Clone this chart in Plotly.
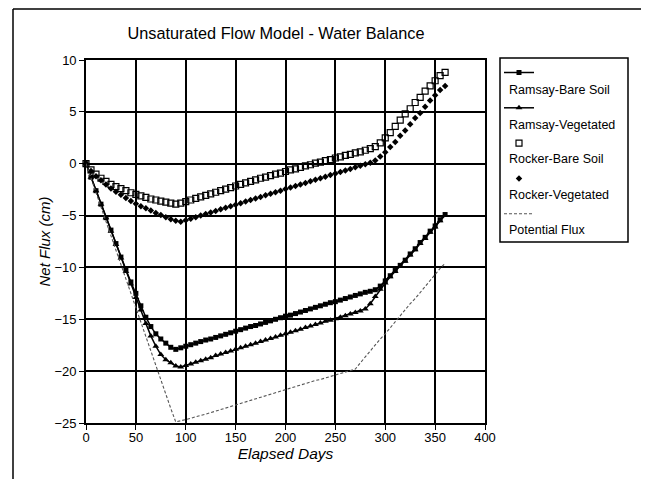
import plotly.graph_objects as go

days = [0, 5, 10, 15, 20, 25, 30, 35, 40, 45,
        50, 55, 60, 65, 70, 75, 80, 85, 90, 95,
        100, 105, 110, 115, 120, 125, 130, 135, 140, 145,
        150, 155, 160, 165, 170, 175, 180, 185, 190, 195,
        200, 205, 210, 215, 220, 225, 230, 235, 240, 245,
        250, 255, 260, 265, 270, 275, 280, 285, 290, 295,
        300, 305, 310, 315, 320, 325, 330, 335, 340, 345,
        350, 355, 360]

ramsay_bare = [0, -1.3, -2.6, -3.9, -5.2, -6.4, -7.7, -9.0, -10.2, -11.4,
               -12.5, -13.7, -14.8, -15.7, -16.4, -16.9, -17.3, -17.7, -17.9, -17.75,
               -17.6, -17.45, -17.3, -17.15, -17.0, -16.9, -16.75, -16.6, -16.45, -16.3,
               -16.15, -16.0, -15.85, -15.7, -15.6, -15.45, -15.3, -15.15, -15.0, -14.85,
               -14.7, -14.6, -14.45, -14.3, -14.15, -14.0, -13.85, -13.7, -13.55, -13.4,
               -13.3, -13.15, -13.0, -12.85, -12.7, -12.55, -12.4, -12.3, -12.15, -11.8,
               -11.3, -10.8, -10.3, -9.8, -9.3, -8.7, -8.2, -7.6, -7.1, -6.5,
               -6.0, -5.4, -4.9]

ramsay_veg = [0, -1.3, -2.6, -3.9, -5.2, -6.5, -7.8, -9.1, -10.4, -11.6,
              -12.9, -14.1, -15.4, -16.6, -17.6, -18.4, -18.9, -19.2, -19.5, -19.6,
              -19.45, -19.3, -19.15, -19.0, -18.85, -18.7, -18.5, -18.35, -18.2, -18.05,
              -17.9, -17.75, -17.6, -17.45, -17.3, -17.15, -17.0, -16.85, -16.7, -16.55,
              -16.4, -16.25, -16.1, -15.95, -15.8, -15.65, -15.5, -15.35, -15.2, -15.1,
              -14.95, -14.8, -14.65, -14.5, -14.35, -14.2, -14.0, -13.5, -12.8, -12.1,
              -11.5, -10.9, -10.4, -9.9, -9.4, -8.8, -8.3, -7.7, -7.2, -6.6,
              -6.1, -5.5, -5.0]

rocker_bare = [0, -0.6, -1.0, -1.4, -1.7, -2.0, -2.2, -2.4, -2.6, -2.8,
               -2.95, -3.1, -3.25, -3.4, -3.5, -3.6, -3.7, -3.8, -3.9, -3.8,
               -3.65, -3.5, -3.35, -3.2, -3.05, -2.9, -2.75, -2.6, -2.45, -2.3,
               -2.15, -2.0, -1.85, -1.7, -1.55, -1.4, -1.3, -1.15, -1.0, -0.9,
               -0.75, -0.6, -0.5, -0.35, -0.2, -0.1, 0.05, 0.15, 0.3, 0.4,
               0.55, 0.65, 0.8, 0.9, 1.05, 1.15, 1.3, 1.45, 1.65, 2.0,
               2.5, 3.0, 3.6, 4.2, 4.8, 5.3, 5.9, 6.4, 7.0, 7.5,
               8.0, 8.5, 8.8]

rocker_veg = [0, -0.7, -1.2, -1.6, -2.0, -2.4, -2.7, -3.0, -3.3, -3.6,
              -3.85, -4.1, -4.3, -4.5, -4.75, -4.95, -5.15, -5.35, -5.5, -5.6,
              -5.45, -5.3, -5.15, -5.0, -4.85, -4.7, -4.55, -4.4, -4.25, -4.1,
              -3.95, -3.8, -3.65, -3.5, -3.35, -3.2, -3.05, -2.9, -2.75, -2.6,
              -2.45, -2.3, -2.15, -2.0, -1.85, -1.7, -1.55, -1.4, -1.25, -1.1,
              -0.95, -0.8, -0.65, -0.5, -0.35, -0.2, -0.05, 0.1, 0.3, 0.7,
              1.1, 1.6, 2.1, 2.7, 3.2, 3.8, 4.4, 4.9, 5.5, 6.1,
              6.6, 7.1, 7.5]

potential = [0, -1.4, -2.8, -4.2, -5.6, -7.0, -8.4, -9.7, -11.1, -12.5,
             -13.9, -15.3, -16.7, -18.1, -19.5, -20.9, -22.3, -23.6, -24.9, -24.8,
             -24.65, -24.55, -24.4, -24.3, -24.15, -24.0, -23.85, -23.7, -23.55, -23.4,
             -23.25, -23.1, -22.95, -22.8, -22.65, -22.5, -22.4, -22.25, -22.1, -21.95,
             -21.8, -21.65, -21.5, -21.35, -21.2, -21.05, -20.9, -20.8, -20.65, -20.5,
             -20.35, -20.2, -20.05, -19.9, -19.8, -19.2, -18.6, -18.1, -17.5, -16.9,
             -16.4, -15.8, -15.2, -14.7, -14.1, -13.5, -13.0, -12.4, -11.8, -11.3,
             -10.7, -10.1, -9.6]

series_names = ["Ramsay-Bare Soil", "Ramsay-Vegetated", "Rocker-Bare Soil",
                "Rocker-Vegetated", "Potential Flux"]

x_ticks = [0, 50, 100, 150, 200, 250, 300, 350, 400]
y_ticks = [-25, -20, -15, -10, -5, 0, 5, 10]

FONT = "Liberation Sans, Arial, Helvetica, sans-serif"

# The page body adds an 8 px margin on every side; size the figure to fit.
OFF = 8
W, H = 649 - 2 * OFF, 487 - 2 * OFF
# plot area in page pixels: x 86..485, y 60..423
PL, PR, PT, PB = 86, 485, 60, 423
L, T = PL - OFF, PT - OFF
R, B = W - (PR - OFF), H - (PB - OFF)
PW, PH = PR - PL, PB - PT


def px(x):
    return (x - PL) / PW


def py(y):
    return (PB - y) / PH


fig = go.Figure()

fig.add_trace(go.Scatter(
    x=days, y=ramsay_bare, name=" ", legendgroup="g1", mode="lines+markers",
    line=dict(color="black", width=1.5),
    marker=dict(symbol="square", size=5, color="black"), cliponaxis=False))
fig.add_trace(go.Scatter(
    x=days, y=ramsay_veg, name=" ", legendgroup="g2", mode="lines+markers",
    line=dict(color="black", width=1.5),
    marker=dict(symbol="triangle-up", size=6, color="black"), cliponaxis=False))
fig.add_trace(go.Scatter(
    x=days, y=rocker_bare, name=" ", legendgroup="g3", mode="markers",
    marker=dict(symbol="square-open", size=6, color="black", line=dict(width=1.2)),
    cliponaxis=False))
fig.add_trace(go.Scatter(
    x=days, y=rocker_veg, name=" ", legendgroup="g4", mode="markers",
    marker=dict(symbol="diamond", size=5, color="black"), cliponaxis=False))
fig.add_trace(go.Scatter(
    x=days, y=potential, name=" ", legendgroup="g5", mode="lines",
    line=dict(color="#555555", width=1.1, dash="3px,2px"), cliponaxis=False))

axis_common = dict(
    showgrid=True, gridcolor="black", gridwidth=1.6,
    showline=True, linecolor="black", linewidth=1.6, mirror=True,
    ticks="outside", ticklen=5, tickwidth=1.3, tickcolor="black",
    zeroline=False, tickfont=dict(family=FONT, size=13, color="black"),
)

fig.update_xaxes(range=[0, 400], tickvals=x_ticks, ticklabelstandoff=-3,
                 **axis_common,
                 title=dict(text="<i>Elapsed Days</i>", standoff=0,
                            font=dict(family=FONT, size=15.5, color="black")))
fig.update_yaxes(range=[-25, 10], tickvals=y_ticks, **axis_common,
                 title=dict(text="<i>Net Flux (cm)</i>", standoff=0,
                            font=dict(family=FONT, size=15, color="black")))

shapes = [
    # outer frame: left and top edges
    dict(type="line", xref="paper", yref="paper",
         x0=px(13), x1=px(13), y0=py(9), y1=py(OFF + H),
         line=dict(color="black", width=1.5)),
    dict(type="line", xref="paper", yref="paper",
         x0=px(13), x1=px(OFF + W), y0=py(9), y1=py(9),
         line=dict(color="black", width=1.5)),
    # legend box
    dict(type="rect", xref="paper", yref="paper",
         x0=px(500), x1=px(628), y0=py(242), y1=py(58),
         line=dict(color="black", width=1.5), fillcolor="rgba(0,0,0,0)"),
]

label_y = [90, 125, 159, 195, 230]
annotations = [
    dict(text=name, x=px(507), y=py(yc), xref="paper", yref="paper",
         xanchor="left", yanchor="middle", showarrow=False,
         font=dict(family=FONT, size=12.5, color="black"))
    for name, yc in zip(series_names, label_y)
]

fig.update_layout(
    width=W, height=H, autosize=False,
    margin=dict(l=L, r=R, t=T, b=B),
    paper_bgcolor="white", plot_bgcolor="white",
    font=dict(family=FONT, color="black"),
    title=dict(text="Unsaturated Flow Model - Water Balance",
               x=px(276), xref="paper", xanchor="center",
               y=1 - (33 - OFF) / H, yref="container", yanchor="middle",
               font=dict(family=FONT, size=16.3, color="black")),
    legend=dict(x=px(499), y=py(58), xanchor="left", yanchor="top",
                bgcolor="rgba(0,0,0,0)", borderwidth=0,
                font=dict(family=FONT, size=12), tracegroupgap=16.3,
                itemwidth=30),
    shapes=shapes,
    annotations=annotations,
)

fig.write_html("out.html")
